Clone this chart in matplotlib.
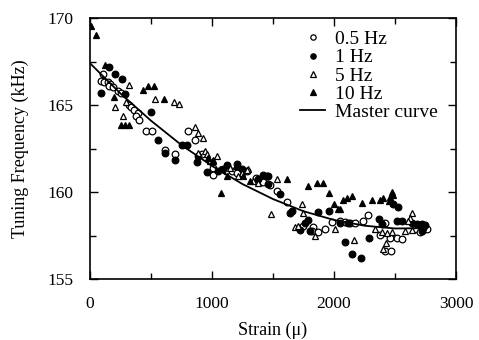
import matplotlib
matplotlib.use("Agg")
import matplotlib.pyplot as plt
from matplotlib.ticker import MultipleLocator

# ---- data (strain, tuning frequency kHz) ----
hz05_x = [104, 90, 117, 145, 164, 158, 186, 227, 254, 317, 336, 363, 391, 377, 404,
          459, 508, 615, 697, 806, 861, 915, 1011, 1011, 1115, 1161, 1202, 1284, 1361,
          1421, 1475, 1530, 1617, 1749, 1830, 1817, 1871, 1926, 1981, 2049, 2090, 2131,
          2172, 2235, 2281, 2377, 2418, 2459, 2514, 2554, 2664, 2705, 2418, 2467, 2760]
hz05_y = [166.8, 166.41, 166.35, 166.3, 166.2, 166.07, 166.03, 165.78, 165.69, 165.02,
          164.87, 164.69, 164.55, 164.39, 164.12, 163.49, 163.49, 162.44, 162.16, 163.49,
          163.02, 162.16, 161.4, 160.97, 161.2, 161.2, 161.11, 161.2, 160.82, 160.59,
          160.38, 160.06, 159.45, 158.05, 158.02, 157.77, 157.71, 157.86, 158.28, 158.34,
          158.28, 158.25, 158.21, 158.34, 158.67, 157.52, 158.25, 157.39, 157.39, 157.33,
          157.86, 157.68, 156.62, 156.59, 157.9]

hz1_x = [153, 206, 260, 90, 287, 500, 560, 615, 752, 798, 697, 880, 888, 956, 1052,
         1093, 1125, 1202, 1243, 1380, 1448, 1421, 1462, 1462, 1557, 1653, 1639, 1790,
         1762, 1721, 1803, 1871, 1962, 2049, 2117, 2090, 2145, 2219, 2290, 2371, 2391,
         2486, 2527, 2519, 2554, 2636, 2718, 2746, 2677, 2732, 2718]
hz1_y = [167.2, 166.8, 166.5, 165.72, 165.63, 164.58, 163.02, 162.25, 162.69, 162.73,
         161.87, 161.72, 162.1, 161.14, 161.2, 161.3, 161.53, 161.59, 161.3, 160.73,
         160.92, 160.96, 160.92, 160.44, 159.87, 158.91, 158.78, 158.4, 158.21, 157.83,
         157.77, 158.86, 158.91, 158.25, 158.21, 157.14, 156.43, 156.19, 157.35, 158.48,
         158.15, 159.3, 159.16, 158.34, 158.34, 158.25, 158.15, 158.09, 158.15, 157.96,
         157.77]

hz5_x = [317, 535, 691, 732, 207, 295, 273, 861, 888, 929, 943, 956, 888, 970, 984,
         1043, 1148, 1243, 1298, 1339, 1284, 1216, 1380, 1530, 1484, 1734, 1749, 1680,
         1708, 2008, 1844, 2164, 2336, 2391, 2432, 2473, 2582, 2636, 2636, 2623, 2609,
         2426, 2404]
hz5_y = [166.13, 165.35, 165.17, 165.08, 164.87, 165.2, 164.35, 163.74, 163.4, 163.11,
         162.35, 162.16, 162.26, 161.97, 161.78, 162.06, 161.4, 161.11, 161.3, 160.63,
         161.26, 160.92, 160.54, 160.73, 158.76, 159.34, 158.82, 158.02, 158.05, 157.86,
         157.45, 157.25, 157.86, 157.68, 157.64, 157.68, 157.77, 157.82, 158.82, 158.53,
         158.34, 157.06, 156.72]

hz10_x = [8, 49, 125, 199, 432, 478, 522, 609, 254, 289, 322, 1005, 970, 1011, 1066,
          1120, 1197, 1257, 1311, 1071, 1617, 1790, 1863, 1912, 1962, 2000, 2036, 2071,
          2109, 2145, 2227, 2309, 2377, 2404, 2459, 2473, 2486, 2450, 2049]
hz10_y = [169.56, 169.04, 167.3, 165.44, 165.84, 166.11, 166.11, 165.36, 163.88, 163.88,
          163.88, 161.87, 161.97, 161.81, 161.34, 160.92, 161.49, 160.92, 160.63, 159.95,
          160.73, 160.34, 160.5, 160.5, 159.97, 159.3, 159.05, 159.54, 159.68, 159.77,
          159.39, 159.52, 159.54, 159.68, 159.74, 160.0, 159.81, 159.5, 159.05]

master_x = [0, 250, 500, 750, 1000, 1250, 1500, 1750, 2000, 2250, 2500, 2750]
master_y = [167.4, 165.66, 164.1, 162.7, 161.5, 160.46, 159.6, 158.9, 158.4, 158.07,
            157.91, 157.93]

plt.rcParams['font.family'] = ['Liberation Serif', 'DejaVu Serif']
plt.rcParams['font.size'] = 12.5

fig = plt.figure(figsize=(4.79, 3.40), dpi=100)
ax = fig.add_axes([0.188, 0.179, 0.764, 0.768])

ms = 4.8
ax.plot(hz05_x, hz05_y, 'o', ms=ms, mfc='white', mec='black', mew=0.9, label='0.5 Hz')
ax.plot(hz1_x, hz1_y, 'o', ms=ms, mfc='black', mec='black', mew=0.9, label='1 Hz')
ax.plot(hz5_x, hz5_y, '^', ms=ms, mfc='white', mec='black', mew=0.9, label='5 Hz')
ax.plot(hz10_x, hz10_y, '^', ms=ms, mfc='black', mec='black', mew=0.9, label='10 Hz')
ax.plot(master_x, master_y, '-', color='black', lw=1.3, label='Master curve')

ax.set_xlim(0, 3000)
ax.set_ylim(155, 170)
ax.xaxis.set_major_locator(MultipleLocator(1000))
ax.xaxis.set_minor_locator(MultipleLocator(500))
ax.yaxis.set_major_locator(MultipleLocator(5))
ax.yaxis.set_minor_locator(MultipleLocator(2.5))
ax.tick_params(which='both', direction='in', top=True, right=True, width=1,
               labelsize=12.5)
ax.tick_params(which='major', length=6)
ax.tick_params(which='minor', length=4)
ax.tick_params(axis='x', which='major', pad=12)
ax.tick_params(axis='y', which='major', pad=12)
for s in ax.spines.values():
    s.set_linewidth(1.2)

ax.set_xlabel('Strain (\u03bc)', fontsize=13, labelpad=7)
ax.set_ylabel('Tuning Frequency (kHz)', fontsize=13, labelpad=13)

ax.legend(loc='upper left', bbox_to_anchor=(0.574, 0.952), frameon=False,
          fontsize=14, borderpad=0, borderaxespad=0, labelspacing=0.03,
          handlelength=1.3, handletextpad=0.5, markerscale=0.8)

fig.savefig('out.png', dpi=100)
